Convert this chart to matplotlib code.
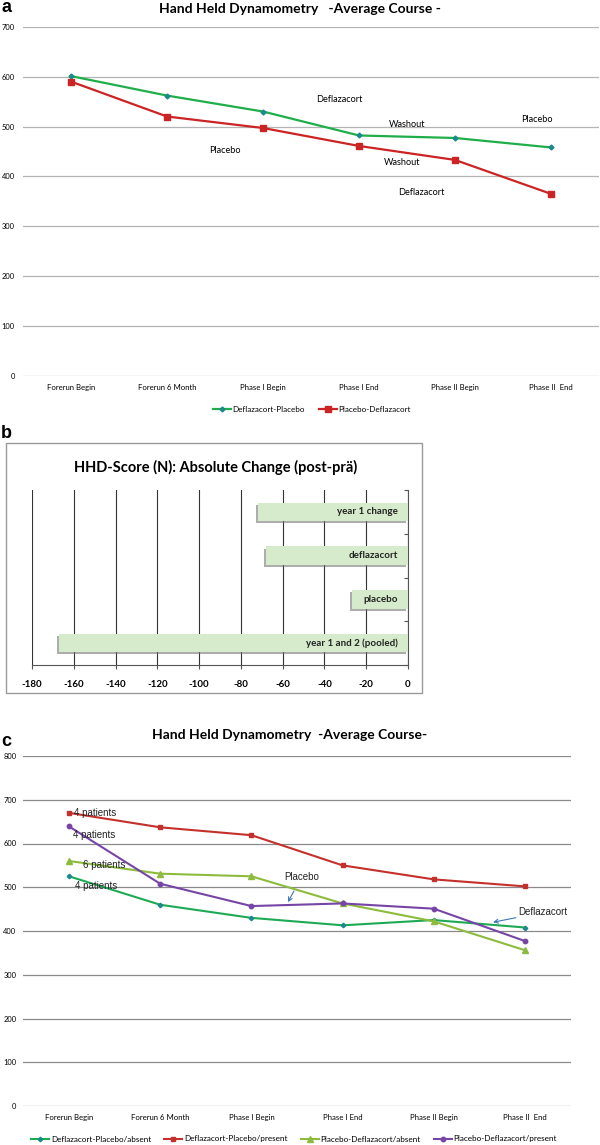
import matplotlib
matplotlib.use("Agg")
import matplotlib.pyplot as plt
import matplotlib.patheffects as pe
from matplotlib.patches import Rectangle
import numpy as np

# ---------------- data ----------------
stages = ['Forerun Begin', 'Forerun 6 Month', 'Phase I Begin', 'Phase I End',
          'Phase II Begin', 'Phase II  End']

# panel a
defl_plac = [601, 562, 530, 482, 477, 458]
plac_defl = [590, 520, 497, 461, 433, 365]

# panel b
hhd_cats = ['year 1 change', 'deflazacort', 'placebo', 'year 1 and 2 (pooled)']
hhd_change = [-72, -68, -27, -167]

# panel c
dp_absent = [525, 460, 430, 413, 425, 408]
dp_present = [670, 637, 619, 550, 518, 502]
pd_absent = [560, 531, 525, 463, 422, 356]
pd_present = [639, 508, 457, 463, 451, 377]

W, H = 600, 1145


def box(l, t, r, b):
    # pixel box -> figure fraction rect
    return [l / W, 1 - b / H, (r - l) / W, (b - t) / H]


fig = plt.figure(figsize=(6, 11.45), dpi=100)
excel = ['Lato', 'DejaVu Sans']
arial = ['Liberation Sans', 'DejaVu Sans']

x = np.arange(len(stages))

# ---------------- panel a ----------------
ax = fig.add_axes(box(23, 26.7, 599, 376))
ax.plot(x, defl_plac, color='#1fae4a', lw=1.6, marker='D', ms=2.5,
        mfc='#1a8a8a', mec='#1a8a8a', label='Deflazacort-Placebo')
ax.plot(x, plac_defl, color='#cc2424', lw=1.6, marker='s', ms=4,
        mfc='#cc2424', mec='#cc2424', label='Placebo-Deflazacort')
ax.set_xlim(-0.5, 5.5)
ax.set_ylim(0, 700)
ax.set_yticks(range(0, 701, 100))
ax.set_xticks(x)
ax.set_xticklabels(stages, fontsize=5.6, family=excel)
for t in ax.get_yticklabels():
    t.set_fontsize(5.4)
    t.set_family(excel)
ax.grid(axis='y', color='#b4b4b4', lw=0.9)
ax.set_axisbelow(True)
for s in ax.spines.values():
    s.set_visible(False)
ax.tick_params(length=0, pad=6)
ax.tick_params(axis='y', pad=6)

notes_a = [('Deflazacort', 2.8, 554), ('Washout', 3.5, 504), ('Placebo', 4.85, 514),
           ('Placebo', 1.6, 452), ('Washout', 3.45, 428), ('Deflazacort', 3.65, 368)]
for txt, xx, yy in notes_a:
    ax.text(xx, yy, txt, fontsize=6.6, family=excel, ha='center', va='center')

ax.legend(loc='center', bbox_to_anchor=(0.52, 1 - 409 / H), bbox_transform=fig.transFigure,
          ncol=2, frameon=False, prop={'family': excel, 'size': 5.8},
          handlelength=2.2, handletextpad=0.2, columnspacing=1.8)
fig.text(300 / W, 1 - 9 / H, 'Hand Held Dynamometry   -Average Course -', fontsize=10,
         fontweight='bold', family=excel, ha='center', va='center')
fig.text(1 / W, 1 - 8 / H, 'a', fontsize=13, fontweight='bold', family=arial,
         ha='left', va='center')

# ---------------- panel b ----------------
fig.patches.append(Rectangle((6 / W, 1 - 693 / H), 416 / W, 250 / H,
                             transform=fig.transFigure, fill=False,
                             ec='#9a9a9a', lw=1.0))
fig.text(1 / W, 1 - 433 / H, 'b', fontsize=13, fontweight='bold', family=arial,
         ha='left', va='center')
fig.text(216 / W, 1 - 467 / H, 'HHD-Score (N): Absolute Change (post-prä)', fontsize=10.5,
         fontweight='bold', family=excel, ha='center', va='center')

bx = fig.add_axes(box(32, 490, 408, 665))
yb = np.arange(len(hhd_cats))
bars = bx.barh(yb, hhd_change, height=0.42, color='#d5ebcb', zorder=3)
for b in bars:
    b.set_path_effects([pe.SimplePatchShadow(offset=(-1.2, -1.5), shadow_rgbFace='#777777',
                                             alpha=0.6), pe.Normal()])
for yy, lab in zip(yb, hhd_cats):
    bx.text(-5, yy, lab, fontsize=7, fontweight='bold', family=excel,
            ha='right', va='center', color='#222222', zorder=4)
bx.set_xlim(-180, 0)
bx.set_ylim(3.5, -0.5)
bx.set_xticks(range(-180, 1, 20))
bx.set_xticklabels([str(v) for v in range(-180, 1, 20)], fontsize=7,
                   fontweight='bold', family=excel)
bx.set_yticks(np.arange(-0.5, 4, 1))
bx.set_yticklabels([])
bx.yaxis.set_ticks_position('right')
bx.tick_params(axis='y', direction='in', length=3, color='#555555')
bx.tick_params(axis='x', direction='out', length=3, color='#555555', pad=8)
bx.grid(axis='x', color='#333333', lw=0.8)
bx.set_axisbelow(True)
for s in ['top', 'left']:
    bx.spines[s].set_visible(False)
bx.spines['bottom'].set_color('#555555')
bx.spines['right'].set_color('#555555')
bx.spines['bottom'].set_linewidth(0.8)
bx.spines['right'].set_linewidth(0.8)

# ---------------- panel c ----------------
cx = fig.add_axes(box(23.4, 756, 570.6, 1106))
cx.plot(x, dp_absent, color='#1eaa55', lw=1.5, marker='D', ms=2.3,
        mfc='#1a8a8a', mec='#1a8a8a', label='Deflazacort-Placebo/absent')
cx.plot(x, dp_present, color='#c4302b', lw=1.5, marker='s', ms=3.5,
        mfc='#c4302b', mec='#c4302b', label='Deflazacort-Placebo/present')
cx.plot(x, pd_absent, color='#8dbb3c', lw=1.5, marker='^', ms=4,
        mfc='#8dbb3c', mec='#8dbb3c', label='Placebo-Deflazacort/absent')
cx.plot(x, pd_present, color='#7645a6', lw=1.5, marker='o', ms=3.2,
        mfc='#7645a6', mec='#7645a6', label='Placebo-Deflazacort/present')
cx.set_xlim(-0.5, 5.5)
cx.set_ylim(0, 800)
cx.set_yticks(range(0, 801, 100))
cx.set_xticks(x)
cx.set_xticklabels(stages, fontsize=5.6, family=excel)
for t in cx.get_yticklabels():
    t.set_fontsize(5.4)
    t.set_family(excel)
cx.grid(axis='y', color='#8a8a8a', lw=0.9)
cx.set_axisbelow(True)
for s in cx.spines.values():
    s.set_visible(False)
cx.tick_params(length=0, pad=6)
cx.tick_params(axis='y', pad=5)

notes_c = [('4 patients', 0.05, 670), ('4 patients', 0.04, 619),
           ('6 patients', 0.15, 550), ('4 patients', 0.07, 502)]
for txt, xx, yy in notes_c:
    cx.text(xx, yy, txt, fontsize=7, family=arial, ha='left', va='center', color='#222222')
cx.annotate('Placebo', xy=(2.4, 466), xytext=(2.55, 523), fontsize=7, family=arial,
            ha='center', va='center', color='#222222',
            arrowprops=dict(arrowstyle='->', color='#3a78b8', lw=0.8,
                            shrinkA=5, shrinkB=0))
cx.annotate('Deflazacort', xy=(4.65, 420), xytext=(5.2, 443), fontsize=7, family=arial,
            ha='center', va='center', color='#222222',
            arrowprops=dict(arrowstyle='->', color='#3a78b8', lw=0.8,
                            shrinkA=24, shrinkB=0))
cx.legend(loc='center', bbox_to_anchor=(0.49, 1 - 1139 / H), bbox_transform=fig.transFigure,
          ncol=4, frameon=False, prop={'family': excel, 'size': 5.9},
          handlelength=2.2, handletextpad=0.2, columnspacing=1.6)
fig.text(290 / W, 1 - 735 / H, 'Hand Held Dynamometry  -Average Course-', fontsize=10,
         fontweight='bold', family=excel, ha='center', va='center')
fig.text(1 / W, 1 - 742 / H, 'c', fontsize=13, fontweight='bold', family=arial,
         ha='left', va='center')

fig.savefig('out.png', dpi=100)
